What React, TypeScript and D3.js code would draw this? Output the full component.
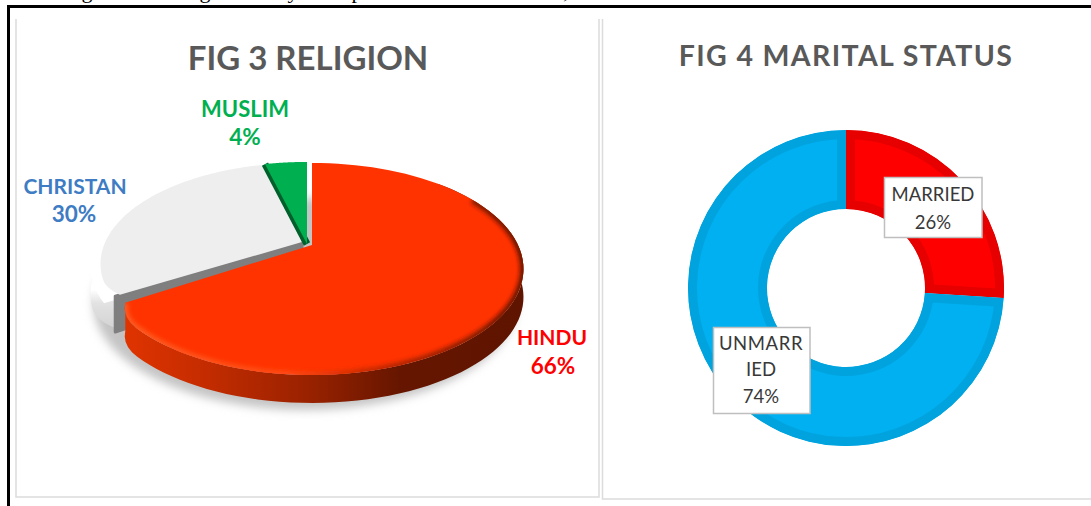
import React from 'react';
import * as d3 from 'd3';

const religionLabels = ['HINDU', 'CHRISTAN', 'MUSLIM'];
const religionValues = [66, 30, 4];
const maritalLabels = ['MARRIED', 'UNMARRIED'];
const maritalValues = [26, 74];
const captionBits = [
  { t: 'g', x: 87 },
  { t: 'g', x: 205 },
  { t: 'y', x: 293 },
  { t: 'p', x: 357 },
  { t: ',', x: 566 },
];

const W = 1091;
const H = 506;
const FONT = 'Lato, "Open Sans", sans-serif';

// 3D pie: flat disc seen in perspective
const PX = 308;
const PY = 245;
const RX = 206;
const RY = 100.6;
const K = 0.226;
const DEPTH = 28;

function project(a: number, r = 1) {
  const u = Math.sin(a) * r;
  const v = -Math.cos(a) * r;
  const f = 1 / (1 - K * v);
  return [PX + RX * u * f, PY + RY * v * f] as [number, number];
}

const lineGen = d3.line();

// corner: angle where the rim curls in, so the slice end looks rounded
function rim(a0: number, a1: number, r = 1, corner?: number) {
  return d3.range(0, 81).map((i) => {
    const a = a0 + ((a1 - a0) * i) / 80;
    let rr = r;
    if (corner !== undefined) {
      const t = Math.max(0, 1 - Math.abs(a - corner) / 0.2);
      rr = r - 0.05 * t * t;
    }
    return project(a, rr);
  });
}

function wedge(a0: number, a1: number, r = 1, corner?: number) {
  return lineGen([[PX, PY], ...rim(a0, a1, r, corner)]) + 'Z';
}

function wall(a0: number, a1: number, corner?: number, depth = DEPTH) {
  const top = rim(a0, a1, 1, corner);
  const bottom = top.map(([x, y]) => [x, y + depth] as [number, number]).reverse();
  return lineGen([...top, ...bottom]) + 'Z';
}

const pieAngles = d3.pie<number>().sort(null)(religionValues);
const [hindu, christian, muslim] = pieAngles;

const donutCx = 846;
const donutCy = 288;
const donutOuter = 158;
const donutInner = 79;
const donutStroke = 18;
const donutColors = ['#FF0000', '#00B0F0'];
const donutEdges = ['#E60000', '#00A3DE'];
const donutAngles = d3.pie<number>().sort(null)(maritalValues);
const donutArc = d3
  .arc<d3.PieArcDatum<number>>()
  .innerRadius(donutInner)
  .outerRadius(donutOuter);

function LabelBox({ x, y, w, h }: { x: number; y: number; w: number; h: number }) {
  return <rect x={x} y={y} width={w} height={h} fill="#fff" stroke="#bfbfbf" strokeWidth={1.5} />;
}

export default function App() {
  const grayCorner = project(christian.startAngle + 0.03, 0.94);
  return (
    <svg width={W} height={H} style={{ position: 'absolute', left: 0, top: 0, display: 'block' }} fontFamily={FONT}>
      <defs>
        <linearGradient id="hinduWall" gradientUnits="userSpaceOnUse" x1={120} x2={525} y1={0} y2={0}>
          <stop offset="0" stopColor="#e03400" />
          <stop offset="0.2" stopColor="#c42c00" />
          <stop offset="0.45" stopColor="#9a2200" />
          <stop offset="0.68" stopColor="#661600" />
          <stop offset="1" stopColor="#5e1400" />
        </linearGradient>
        <linearGradient id="hinduBevel" gradientUnits="userSpaceOnUse" x1={120} x2={525} y1={0} y2={0}>
          <stop offset="0" stopColor="#ff5a20" />
          <stop offset="0.4" stopColor="#ff4a14" />
          <stop offset="0.6" stopColor="#c92a00" />
          <stop offset="1" stopColor="#5e1400" />
        </linearGradient>
        <linearGradient id="christianWall" gradientUnits="userSpaceOnUse" x1={0} x2={0} y1={262} y2={330}>
          <stop offset="0" stopColor="#ffffff" />
          <stop offset="0.45" stopColor="#ffffff" />
          <stop offset="0.65" stopColor="#e2e2e2" />
          <stop offset="1" stopColor="#d4d4d4" />
        </linearGradient>
        <filter id="soft" x="-20%" y="-20%" width="140%" height="140%">
          <feGaussianBlur stdDeviation="5" />
        </filter>
        <filter id="bevelBlur" x="-10%" y="-10%" width="120%" height="120%">
          <feGaussianBlur stdDeviation="2" />
        </filter>
        <clipPath id="hinduClip">
          <path d={wedge(hindu.startAngle, hindu.endAngle, 1, hindu.endAngle)} transform="translate(4,0)" />
        </clipPath>
        {donutAngles.map((d, i) => (
          <clipPath id={`donutClip${i}`} key={i}>
            <path d={donutArc(d)!} />
          </clipPath>
        ))}
      </defs>

      <rect width={W} height={H} fill="#fff" />

      {/* cut-off caption above the frame */}
      <g fontFamily='"Liberation Serif", serif' fontSize={22} fill="#000">
        {captionBits.map((d) => (
          <text key={d.x} x={d.x} y={-2} textAnchor="middle">
            {d.t}
          </text>
        ))}
      </g>

      {/* page frame */}
      <path d={`M8.5,${H} V6.5 H${W}`} fill="none" stroke="#000" strokeWidth={3} />

      {/* panels */}
      <path d="M16,19 V497 H599 V19" fill="none" stroke="#dcdcdc" strokeWidth={1.5} />
      <path d={`M602.5,19 V499 H${W}`} fill="none" stroke="#dcdcdc" strokeWidth={1.5} />

      <text x={308} y={70} textAnchor="middle" fontSize={33} fontWeight={700} fill="#595959">
        FIG 3 RELIGION
      </text>
      <text x={846} y={66} textAnchor="middle" fontSize={28.5} fontWeight={700} fill="#595959" letterSpacing={1.35}>
        FIG 4 MARITAL STATUS
      </text>

      {/* shadow */}
      <path
        d={lineGen(rim(0, Math.PI * 2)) + 'Z'}
        transform={`translate(-3,${DEPTH + 7})`}
        fill="#c4c4c4"
        filter="url(#soft)"
      />

      {/* christian slice */}
      <g transform="translate(-6,-3)">
        <path d={wall(christian.startAngle, christian.endAngle, christian.startAngle)} fill="url(#christianWall)" />
        <path d={wedge(christian.startAngle, christian.endAngle)} fill="#fff" />
        <path
          d={
            lineGen([
              [PX, PY],
              grayCorner,
              [grayCorner[0], grayCorner[1] + DEPTH + 8],
              [PX, PY + DEPTH],
            ]) + 'Z'
          }
          fill="#7f7f7f"
          stroke="#7f7f7f"
          strokeWidth={3}
          strokeLinejoin="round"
        />
        <path d={wedge(christian.startAngle + 0.03, christian.endAngle, 0.955, christian.startAngle)} fill="#eeeeee" />
      </g>

      {/* muslim slice */}
      <g transform="translate(-1,-1)">
        <path d={lineGen([[PX, PY], project(muslim.startAngle)])!} stroke="#00602c" strokeWidth={7} fill="none" />
        <path d={wedge(muslim.startAngle, muslim.endAngle)} fill="#00B050" />
      </g>

      {/* hindu slice */}
      <g transform="translate(4,0)">
        <path d={wall(Math.PI / 4, hindu.endAngle, hindu.endAngle)} fill="url(#hinduWall)" />
        <path d={wedge(hindu.startAngle, hindu.endAngle, 1, hindu.endAngle)} fill="#FF3300" />
      </g>
      <g clipPath="url(#hinduClip)">
        <path
          d={lineGen(rim(1.05, hindu.endAngle, 1, hindu.endAngle))!}
          transform="translate(4,0)"
          fill="none"
          stroke="url(#hinduBevel)"
          strokeWidth={7}
          filter="url(#bevelBlur)"
        />
      </g>

      <g fontWeight={700} textAnchor="middle">
        <g fill="#FF0000">
          <text x={552} y={345} fontSize={21}>{religionLabels[0]}</text>
          <text x={553} y={374} fontSize={22.5}>{religionValues[0]}%</text>
        </g>
        <g fill="#3E7CC4">
          <text x={75} y={194} fontSize={21}>{religionLabels[1]}</text>
          <text x={74} y={222} fontSize={22.5}>{religionValues[1]}%</text>
        </g>
        <g fill="#00B050">
          <text x={245} y={117} fontSize={22}>{religionLabels[2]}</text>
          <text x={245} y={145} fontSize={22.5}>{religionValues[2]}%</text>
        </g>
      </g>

      {/* donut: edge stroke stays inside each segment through its clip */}
      <g transform={`translate(${donutCx},${donutCy})`}>
        {donutAngles.map((d, i) => (
          <g key={maritalLabels[i]} clipPath={`url(#donutClip${i})`}>
            <path d={donutArc(d)!} fill={donutColors[i]} stroke={donutEdges[i]} strokeWidth={donutStroke} />
          </g>
        ))}
      </g>

      <LabelBox x={884.5} y={177.5} w={97.5} h={60} />
      <LabelBox x={713.5} y={327.5} w={96.5} h={86} />
      <g fontSize={18.5} fill="#383838" textAnchor="middle">
        <text x={933} y={201}>{maritalLabels[0]}</text>
        <text x={933} y={229}>{maritalValues[0]}%</text>
        <text x={761} y={350} letterSpacing={0.6}>{maritalLabels[1].slice(0, 6)}</text>
        <text x={761} y={376}>{maritalLabels[1].slice(6)}</text>
        <text x={761} y={403}>{maritalValues[1]}%</text>
      </g>
    </svg>
  );
}
